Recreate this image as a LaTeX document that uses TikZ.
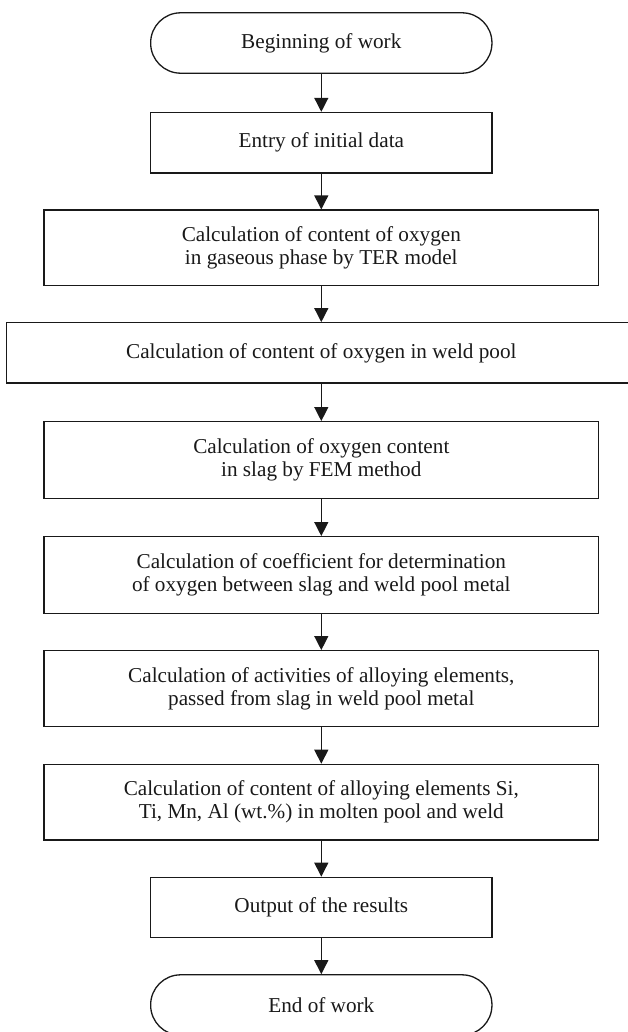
\documentclass[tikz,border=0pt]{standalone}
\usepackage{fontspec}
\setmainfont{Liberation Serif}
\usetikzlibrary{arrows.meta}
\begin{document}
\begin{tikzpicture}[x=1pt,y=1pt,
  box/.style={draw=black!90, line width=1.3pt, rectangle, align=center,
    font=\fontsize{21.2}{23}\selectfont, text=black!90, inner sep=2pt},
  wide/.style={box, minimum width=554.4pt, minimum height=76pt},
  mid/.style={box, minimum width=341.3pt, minimum height=60.4pt},
  term/.style={mid, rounded corners=30pt},
  arr/.style={draw=black!90, line width=1.3pt, -{Triangle[length=14pt,width=14pt]}}]
\useasboundingbox (0,0) rectangle (627,-1032);
\node[term] (start) at (321.3,-43) {Beginning of work};
\node[mid] (entry) at (321.3,-142.7) {Entry of initial data};
\node[wide, minimum height=75.7pt] (ter) at (321.3,-247.9) {Calculation of content of oxygen\\in gaseous phase by TER model};
\node[box, minimum width=629.3pt, minimum height=60.3pt] (weld) at (321.3,-352.9) {Calculation of content of oxygen in weld pool};
\node[wide, minimum height=76.6pt] (fem) at (321.3,-460) {Calculation of oxygen content\\in slag by FEM method};
\node[wide, minimum height=76.6pt] (coef) at (321.3,-575) {Calculation of coefficient for determination\\of oxygen between slag and weld pool metal};
\node[wide] (act) at (321.3,-688.7) {Calculation of activities of alloying elements,\\passed from slag in weld pool metal};
\node[wide, minimum height=75.7pt] (alloy) at (321.3,-802.2) {Calculation of content of alloying elements Si,\\Ti, Mn, Al (wt.\%) in molten pool and weld};
\node[mid] (out) at (321.3,-907.5) {Output of the results};
\node[term] (end) at (321.3,-1005) {End of work};
\draw[arr] (start) -- (entry);
\draw[arr] (entry) -- (ter);
\draw[arr] (ter) -- (weld);
\draw[arr] (weld) -- (fem);
\draw[arr] (fem) -- (coef);
\draw[arr] (coef) -- (act);
\draw[arr] (act) -- (alloy);
\draw[arr] (alloy) -- (out);
\draw[arr] (out) -- (end);
\end{tikzpicture}
\end{document}
